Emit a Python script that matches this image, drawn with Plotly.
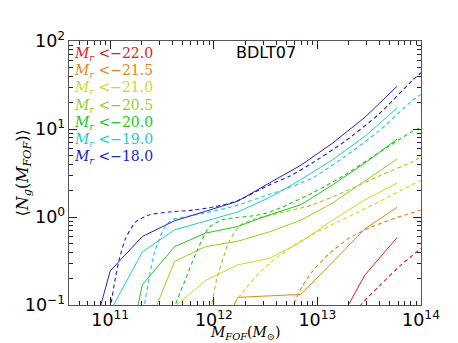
import plotly.graph_objects as go

# halo mass bin centres (Msun) used for the measured (solid) curves
mass_bins = [5.0e10, 1.0e11, 2.04e11, 4.17e11, 8.32e11, 1.70e12, 3.47e12, 6.92e12, 1.41e13, 2.88e13, 5.89e13]

labels = ["-22.0", "-21.5", "-21.0", "-20.5", "-20.0", "-19.0", "-18.0"]
colors = ["#dd2020", "#dd8a18", "#d8d41c", "#96d01a", "#22c81e", "#22ccd0", "#2222d0"]

# solid: measured <Ng> per bin
ng_m22 = [None, None, None, None, None, None, None, None, 0.048, 0.22, 0.586]
ng_m215 = [None, None, None, None, 0.02, 0.122, 0.127, 0.132, 0.31, 0.734, 1.29]
ng_m21 = [None, None, None, 0.095, 0.19, 0.286, 0.34, 0.52, 0.93, 1.57, 2.43]
ng_m205 = [None, None, 0.039, 0.312, 0.46, 0.53, 0.68, 0.92, 1.45, 2.6, 4.57]
ng_m20 = [None, 0.003, 0.17, 0.46, 0.656, 0.78, 1.06, 1.38, 2.33, 4.11, 7.7]
ng_m19 = [None, 0.085, 0.40, 0.714, 0.905, 1.14, 1.67, 2.66, 4.49, 8.28, 17.4]
ng_m18 = [0.0126, 0.244, 0.60, 0.905, 1.16, 1.51, 2.45, 3.87, 6.95, 13.6, 30.7]
solid = [ng_m22, ng_m215, ng_m21, ng_m205, ng_m20, ng_m19, ng_m18]

# dashed: model curves (mass, <Ng>)
hod_m22_m = [2.51e13, 2.63e13, 3.98e13, 6.31e13, 1.0e14]
hod_m22_n = [0.08, 0.1, 0.165, 0.28, 0.44]
hod_m215_m = [5.5e12, 5.89e12, 7.08e12, 8.91e12, 1.26e13, 2.0e13, 3.16e13, 5.62e13, 1.0e14]
hod_m215_n = [0.05, 0.1, 0.16, 0.24, 0.37, 0.57, 0.75, 0.97, 1.2]
hod_m21_m = [1.48e12, 1.55e12, 2.0e12, 2.82e12, 3.98e12, 6.31e12, 1.0e13, 1.58e13, 2.51e13, 3.98e13, 6.31e13, 1.0e14]
hod_m21_n = [0.05, 0.1, 0.15, 0.24, 0.34, 0.5, 0.68, 0.88, 1.15, 1.5, 2.0, 2.6]
hod_m205_m = [8.91e11, 9.55e11, 1.07e12, 1.26e12, 1.41e12, 1.78e12, 2.51e12, 4.17e12, 8.91e12, 1.86e13, 3.89e13, 8.13e13, 1.0e14]
hod_m205_n = [0.05, 0.1, 0.2, 0.37, 0.53, 0.8, 0.95, 1.1, 1.37, 1.96, 2.9, 4.2, 4.8]
hod_m20_m = [3.98e11, 4.27e11, 5.37e11, 6.61e11, 8.91e11, 1.2e12, 1.58e12, 2.24e12, 3.16e12, 4.47e12, 8.91e12, 1.86e13, 3.89e13, 8.13e13, 1.0e14]
hod_m20_n = [0.05, 0.1, 0.2, 0.37, 0.75, 0.93, 0.98, 1.02, 1.1, 1.28, 1.87, 3.03, 5.35, 9.3, 10.5]
hod_m19_m = [2.0e11, 2.14e11, 2.37e11, 2.63e11, 2.95e11, 3.39e11, 3.98e11, 5.62e11, 7.94e11, 1.58e12, 3.16e12, 4.27e12, 8.91e12, 1.86e13, 3.89e13, 8.13e13, 1.0e14]
hod_m19_n = [0.05, 0.1, 0.2, 0.37, 0.55, 0.78, 0.93, 1.02, 1.1, 1.33, 1.75, 1.96, 2.77, 4.9, 9.4, 20.8, 24.7]
hod_m18_m = [8.91e10, 1.0e11, 1.12e11, 1.23e11, 1.41e11, 1.78e11, 2.4e11, 3.72e11, 6.31e11, 1.0e12, 1.62e12, 3.47e12, 5.37e12, 8.91e12, 1.86e13, 3.89e13, 8.13e13, 1.0e14]
hod_m18_n = [0.03, 0.09, 0.2, 0.34, 0.575, 0.89, 1.06, 1.14, 1.2, 1.3, 1.5, 2.33, 2.9, 4.1, 7.3, 14.6, 35.0, 43.6]
hod_m = [hod_m22_m, hod_m215_m, hod_m21_m, hod_m205_m, hod_m20_m, hod_m19_m, hod_m18_m]
hod_n = [hod_m22_n, hod_m215_n, hod_m21_n, hod_m205_n, hod_m20_n, hod_m19_n, hod_m18_n]

# y tick labels that plotly would otherwise print as plain numbers
y_alias = {"1": "10<sup>0</sup>", "10": "10<sup>1</sup>", "100": "10<sup>2</sup>",
           "0.1": "10<sup>\u22121</sup>"}

fig = go.Figure()
for i in range(len(labels)):
    fig.add_trace(go.Scatter(x=mass_bins, y=solid[i], mode="lines",
                             line=dict(color=colors[i], width=1), showlegend=False))
    fig.add_trace(go.Scatter(x=hod_m[i], y=hod_n[i], mode="lines",
                             line=dict(color=colors[i], width=1.1, dash="4px,3px", shape="spline", smoothing=0.6),
                             showlegend=False))

# coloured legend text
for i, lab in enumerate(labels):
    fig.add_annotation(x=0.0, y=0.951 - i * 0.0652, xref="paper", yref="paper",
                       xanchor="left", yanchor="middle", showarrow=False, xshift=4, borderpad=0,
                       text="<i>M<sub>r</sub></i> <\u2212" + lab[1:],
                       font=dict(family="DejaVu Serif", size=14, color=colors[i]))
fig.add_annotation(x=0.559, y=0.958, xref="paper", yref="paper", xanchor="center",
                   yanchor="middle", showarrow=False, text="BDLT07", borderpad=0,
                   font=dict(family="DejaVu Sans", size=16, color="black"))
# axis titles
fig.add_annotation(x=0.5, y=-0.107, xref="paper", yref="paper", xanchor="center",
                   yanchor="middle", showarrow=False, borderpad=0,
                   text="<i>M<sub>FOF</sub></i>(<i>M</i><sub>\u2299</sub>)",
                   font=dict(family="DejaVu Serif", size=14, color="black"))
fig.add_annotation(x=-0.132, y=0.5, xref="paper", yref="paper", xanchor="center",
                   yanchor="middle", showarrow=False, borderpad=0, textangle=-90,
                   text="\u27e8<i>N<sub>g</sub></i>(<i>M<sub>FOF</sub></i>)\u27e9",
                   font=dict(family="DejaVu Serif", size=16, color="black"))

axis_common = dict(type="log", dtick=1, exponentformat="power", showexponent="all",
                   ticks="inside", ticklen=8, tickwidth=1.2, tickcolor="#222",
                   showline=True, linecolor="#555", linewidth=1.2, mirror="allticks",
                   showgrid=False, zeroline=False, automargin=False,
                   minor=dict(dtick="D1", ticks="inside", ticklen=4, tickwidth=1, tickcolor="#222", showgrid=False),
                   tickfont=dict(family="DejaVu Sans", size=14, color="black"))

fig.update_xaxes(range=[10.602, 14.0], **axis_common)
fig.update_yaxes(range=[-1, 2], labelalias=y_alias, **axis_common)

fig.update_layout(width=458, height=343, margin=dict(l=61, r=45, t=33, b=46),
                  plot_bgcolor="white", paper_bgcolor="white")
fig.write_html("out.html")
